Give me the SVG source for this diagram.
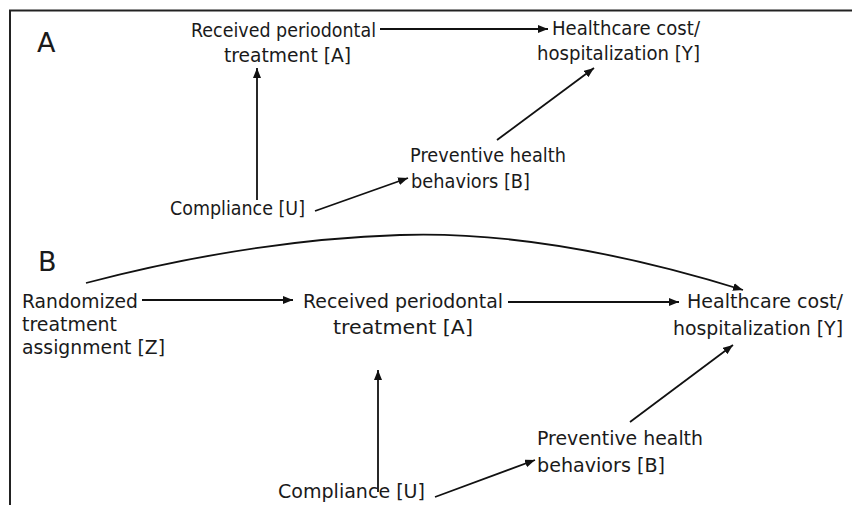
<svg xmlns="http://www.w3.org/2000/svg" width="852" height="505" viewBox="0 0 852 505">
<style>
  text { font-family: "DejaVu Sans", "Liberation Sans", sans-serif; fill: #1a1a1a; }
  .a { font-size: 19px; }
  .b { font-size: 20px; }
  .lbl { font-size: 27px; }
  .edge { stroke: #111; stroke-width: 1.8; fill: none; marker-end: url(#ah); }
  .frame { stroke: #222; stroke-width: 2; fill: none; }
</style>
<defs>
  <marker id="ah" markerUnits="userSpaceOnUse" markerWidth="12" markerHeight="10" refX="10" refY="4" orient="auto">
    <path d="M0,0 L10,4 L0,8 Z" fill="#111"/>
  </marker>
</defs>
<rect width="852" height="505" fill="#fff"/>
<path class="frame" d="M10,505 L10,10.5 L852,10.5"/>

<g id="panelA">
  <text class="lbl" x="37" y="52">A</text>
  <g id="A_treat">
    <text class="a" x="191" y="37" textLength="185" lengthAdjust="spacingAndGlyphs">Received periodontal</text>
    <text class="a" x="224" y="62" textLength="127" lengthAdjust="spacingAndGlyphs">treatment [A]</text>
  </g>
  <g id="A_cost">
    <text class="a" x="552" y="35" textLength="148" lengthAdjust="spacingAndGlyphs">Healthcare cost/</text>
    <text class="a" x="537" y="60" textLength="163" lengthAdjust="spacingAndGlyphs">hospitalization [Y]</text>
  </g>
  <g id="A_behav">
    <text class="a" x="410" y="162" textLength="156" lengthAdjust="spacingAndGlyphs">Preventive health</text>
    <text class="a" x="411" y="188" textLength="119" lengthAdjust="spacingAndGlyphs">behaviors [B]</text>
  </g>
  <g id="A_comp">
    <text class="a" x="170" y="215" textLength="135" lengthAdjust="spacingAndGlyphs">Compliance [U]</text>
  </g>
</g>

<g id="panelB">
  <text class="lbl" x="38" y="271">B</text>
  <g id="B_rand">
    <text class="b" x="22" y="308" textLength="116" lengthAdjust="spacingAndGlyphs">Randomized</text>
    <text class="b" x="22" y="331" textLength="95" lengthAdjust="spacingAndGlyphs">treatment</text>
    <text class="b" x="22" y="354" textLength="143" lengthAdjust="spacingAndGlyphs">assignment [Z]</text>
  </g>
  <g id="B_treat">
    <text class="b" x="303" y="308" textLength="200" lengthAdjust="spacingAndGlyphs">Received periodontal</text>
    <text class="b" x="333" y="334" textLength="140" lengthAdjust="spacingAndGlyphs">treatment [A]</text>
  </g>
  <g id="B_cost">
    <text class="b" x="687" y="308" textLength="156" lengthAdjust="spacingAndGlyphs">Healthcare cost/</text>
    <text class="b" x="673" y="335" textLength="170" lengthAdjust="spacingAndGlyphs">hospitalization [Y]</text>
  </g>
  <g id="B_behav">
    <text class="b" x="537" y="445" textLength="166" lengthAdjust="spacingAndGlyphs">Preventive health</text>
    <text class="b" x="537" y="472" textLength="128" lengthAdjust="spacingAndGlyphs">behaviors [B]</text>
  </g>
  <g id="B_comp">
    <text class="b" x="278" y="498" textLength="147" lengthAdjust="spacingAndGlyphs">Compliance [U]</text>
  </g>
</g>

<g id="connectors">
  <line class="edge" x1="380" y1="29" x2="548" y2="29"/>
  <line class="edge" x1="257" y1="200" x2="257" y2="68"/>
  <line class="edge" x1="315" y1="211" x2="408" y2="178"/>
  <line class="edge" x1="497" y1="140" x2="594" y2="68"/>

  <path class="edge" d="M86,283 Q250,240 400,235 T743,290"/>
  <line class="edge" x1="142" y1="300" x2="293" y2="300"/>
  <line class="edge" x1="508" y1="302" x2="679" y2="302"/>
  <line class="edge" x1="378" y1="492" x2="378" y2="370"/>
  <line class="edge" x1="435" y1="497" x2="535" y2="460"/>
  <line class="edge" x1="630" y1="422" x2="733" y2="345"/>
</g>
</svg>
